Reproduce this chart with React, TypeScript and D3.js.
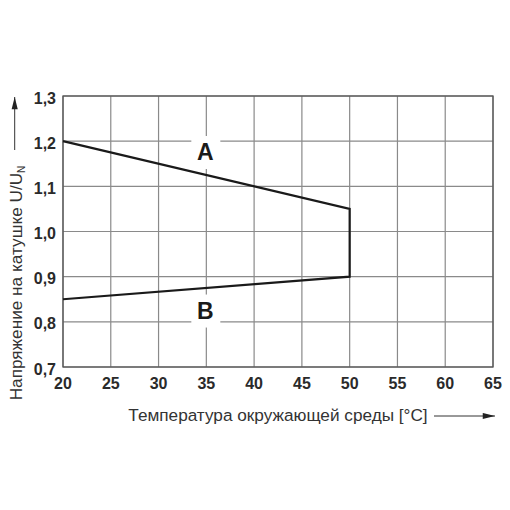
import React from "react";
import * as d3 from "d3";

const xTicks = [20, 25, 30, 35, 40, 45, 50, 55, 60, 65];
const yTicks = [0.7, 0.8, 0.9, 1.0, 1.1, 1.2, 1.3];
const curveX = [20, 50, 50, 20];
const curveY = [1.2, 1.05, 0.9, 0.85];
const labels = ["A", "B"];
const labelX = [35, 35];
const labelY = [1.176, 0.825];

export default function App() {
  const W = 510, H = 510;
  const x = d3.scaleLinear().domain([20, 65]).range([63, 493]);
  const y = d3.scaleLinear().domain([0.7, 1.3]).range([367, 96]);
  const pts: [number, number][] = curveX.map((v, i) => [x(v), y(curveY[i])]);
  const line = d3.line()(pts) as string;
  const fmt = (v: number) => v.toFixed(1).replace(".", ",");
  const font = "'Liberation Sans', Arial, sans-serif";
  return (
    <svg width={W} height={H} style={{ position: "absolute", left: 0, top: 0 }}>
      <rect x={0} y={0} width={W} height={H} fill="#fff" />
      <defs>
        <marker id="arr" viewBox="0 0 14 8" refX="14" refY="4" markerWidth="14" markerHeight="7" orient="auto" markerUnits="userSpaceOnUse">
          <path d="M0,0.5 L14,4 L0,7.5 Z" fill="#222" />
        </marker>
      </defs>
      {xTicks.map((t) => (
        <line key={"gx" + t} x1={x(t)} x2={x(t)} y1={y(1.3)} y2={y(0.7)} stroke="#8a8a8a" strokeWidth={1.2} />
      ))}
      {yTicks.map((t) => (
        <line key={"gy" + t} x1={x(20)} x2={x(65)} y1={y(t)} y2={y(t)} stroke="#8a8a8a" strokeWidth={1.2} />
      ))}
      <rect x={x(20)} y={y(1.3)} width={x(65) - x(20)} height={y(0.7) - y(1.3)} fill="none" stroke="#555" strokeWidth={1.3} />
      {labels.map((l, i) => (
        <g key={l}>
          <rect x={x(labelX[i]) - 15} y={y(labelY[i]) - 16} width={29} height={33} fill="#fff" />
          <text x={x(labelX[i]) - 1} y={y(labelY[i]) + 8} textAnchor="middle" fontFamily={font} fontWeight="bold" fontSize={23} fill="#1a1a1a">{l}</text>
        </g>
      ))}
      <path d={line} fill="none" stroke="#1a1a1a" strokeWidth={2.2} strokeLinejoin="miter" />
      {yTicks.map((t) => (
        <text key={"ty" + t} x={56} y={y(t) + 7.5} textAnchor="end" fontFamily={font} fontWeight="bold" fontSize={16} fill="#2a2a2a">{fmt(t)}</text>
      ))}
      {xTicks.map((t) => (
        <text key={"tx" + t} x={x(t)} y={388.5} textAnchor="middle" fontFamily={font} fontWeight="bold" fontSize={16} fill="#2a2a2a">{t}</text>
      ))}
      <text x={278} y={421} textAnchor="middle" fontFamily={font} fontSize={17.2} fill="#333">Температура окружающей среды [°C]</text>
      <line x1={434} x2={495} y1={416} y2={416} stroke="#333" strokeWidth={1} markerEnd="url(#arr)" />
      <text transform="translate(21.5,283) rotate(-90)" textAnchor="middle" fontFamily={font} fontSize={17.2} fill="#333">
        Напряжение на катушке U/U<tspan fontSize={10} dy={3}>N</tspan>
      </text>
      <line x1={14.7} x2={14.7} y1={150} y2={97} stroke="#333" strokeWidth={1} markerEnd="url(#arr)" />
    </svg>
  );
}
